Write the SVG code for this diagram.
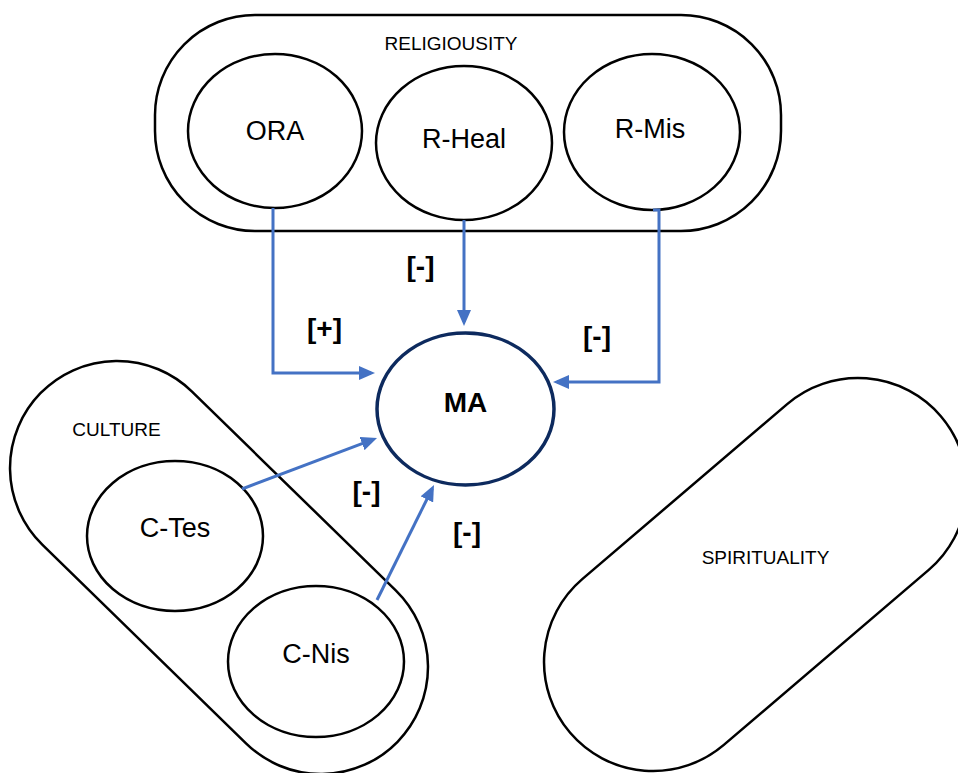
<svg xmlns="http://www.w3.org/2000/svg" width="958" height="773" viewBox="0 0 958 773">
<style>
.box{fill:none;stroke:#000;stroke-width:2.5}
.node{fill:#fff;stroke:#000;stroke-width:2.5}
.ma{fill:#fff;stroke:#0d2a5e;stroke-width:3.5}
.grp{font-family:"Liberation Sans",Arial,sans-serif;font-size:19px;fill:#000;text-anchor:middle}
.lbl{font-family:"Liberation Sans",Arial,sans-serif;font-size:27px;fill:#000;text-anchor:middle}
.sign{font-family:"Liberation Sans",Arial,sans-serif;font-size:28px;font-weight:bold;fill:#000;text-anchor:middle}
.conn{fill:none;stroke:#4472c4;stroke-width:3}
</style>
<defs>
<marker id="arr" markerUnits="userSpaceOnUse" markerWidth="16" markerHeight="14" refX="12" refY="7" orient="auto">
<path d="M0,0 L16,7 L0,14 z" fill="#4472c4"/>
</marker>
</defs>
<g id="religiousity">
<rect class="box" x="155" y="15" width="626" height="216" rx="100"/>
<text class="grp" x="451" y="50">RELIGIOUSITY</text>
</g>
<g id="culture">
<rect class="box" x="-249.5" y="-107" width="499" height="214" rx="107" transform="translate(219,567.5) rotate(44.3)"/>
<text class="grp" x="116.5" y="436">CULTURE</text>
</g>
<g id="spirituality">
<rect class="box" x="-243.75" y="-109" width="487.5" height="218" rx="109" transform="translate(755.5,574.5) rotate(-40.5)"/>
<text class="grp" x="765.5" y="564">SPIRITUALITY</text>
</g>
<g id="ora">
<ellipse class="node" cx="275" cy="131" rx="87" ry="77"/>
<text class="lbl" x="275" y="140">ORA</text>
</g>
<g id="rheal">
<ellipse class="node" cx="464" cy="143" rx="88" ry="77"/>
<text class="lbl" x="464" y="148">R-Heal</text>
</g>
<g id="rmis">
<ellipse class="node" cx="652" cy="132" rx="88" ry="78"/>
<text class="lbl" x="650" y="138">R-Mis</text>
</g>
<g id="ctes">
<ellipse class="node" cx="175" cy="536" rx="88" ry="75"/>
<text class="lbl" x="175" y="537">C-Tes</text>
</g>
<g id="cnis">
<ellipse class="node" cx="316" cy="661.5" rx="88" ry="75.5"/>
<text class="lbl" x="316" y="663">C-Nis</text>
</g>
<g id="ma">
<ellipse class="ma" cx="465.5" cy="409" rx="88.5" ry="76"/>
<text class="sign" x="465.5" y="412">MA</text>
</g>
<g id="connectors">
<path class="conn" d="M273,208 V373 H371" marker-end="url(#arr)"/>
<path class="conn" d="M464,220 V322" marker-end="url(#arr)"/>
<path class="conn" d="M653,210 H659 V382 H557" marker-end="url(#arr)"/>
<path class="conn" d="M242,489 L373.3,439.4" marker-end="url(#arr)"/>
<path class="conn" d="M377,600 L432.2,488.6" marker-end="url(#arr)"/>
</g>
<g id="labels">
<text class="sign" x="324.5" y="338">[+]</text>
<text class="sign" x="420.5" y="276">[-]</text>
<text class="sign" x="597" y="346">[-]</text>
<text class="sign" x="366.5" y="501">[-]</text>
<text class="sign" x="467" y="542">[-]</text>
</g>
</svg>
